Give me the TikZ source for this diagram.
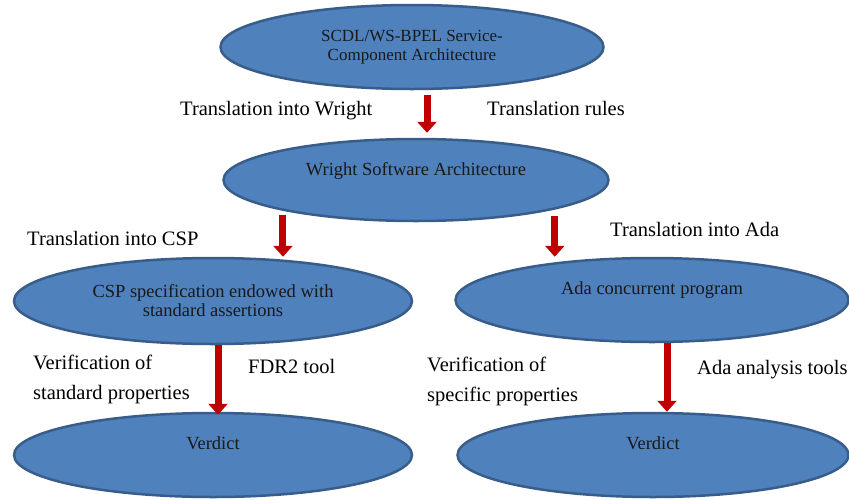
\documentclass[tikz,border=0pt]{standalone}
\usepackage{fontspec}
\setmainfont{Liberation Serif}
\usetikzlibrary{shapes.geometric, arrows.meta}
\definecolor{boxblue}{HTML}{4F81BD}
\definecolor{boxline}{HTML}{385D8A}
\definecolor{arrowred}{HTML}{C00000}
\def\fs{\fontsize{18.5}{19}\selectfont}
\def\ls{\fontsize{20.5}{30}\selectfont}

\begin{document}
\begin{tikzpicture}[x=1pt, y=-1pt,
  stage/.style={ellipse, draw=boxline, fill=boxblue, line width=2.5pt, inner sep=0pt, align=center, font=\fs, text=black!90},
  single/.style={text depth=23pt},
  lbl/.style={inner sep=0pt, align=left, font=\ls},
  flow/.style={draw=arrowred, line width=7pt, -{Triangle[width=19pt,length=11pt]}}]
\useasboundingbox (0,0) rectangle (849,499);

\node[stage, minimum width=383pt, minimum height=84pt, font=\fontsize{17}{19}\selectfont] (scdl) at (412,47) {SCDL/WS-BPEL Service-\\Component Architecture};
\node[stage, single, minimum width=385pt, minimum height=82pt] (wright) at (416,180) {Wright Software Architecture};
\node[stage, minimum width=398pt, minimum height=86pt] (csp) at (213,301) {CSP specification endowed with\\standard assertions};
\node[stage, single, minimum width=393pt, minimum height=84pt] (ada) at (652,300) {Ada concurrent program};
\node[stage, single, minimum width=398pt, minimum height=84pt] (verdictL) at (213,455) {Verdict};
\node[stage, single, minimum width=391pt, minimum height=84pt] (verdictR) at (653,455) {Verdict};

\draw[flow, shorten <=5pt, shorten >=5pt] ([xshift=15pt]scdl.south) -- ([xshift=15pt]scdl.south |- wright.north);
\draw[flow, shorten <=4pt] (wright.-167) -- (wright.-167 |- csp.north);
\draw[flow, shorten <=7pt] (wright.-12) -- (wright.-12 |- ada.north);
\draw[flow, shorten >=-3pt] ([xshift=5pt]csp.south) -- ([xshift=5pt]csp.south |- verdictL.north);
\draw[flow] ([xshift=15pt]ada.south) -- ([xshift=15pt]ada.south |- verdictR.north);

\node[lbl, anchor=base west] (twright) at (180,115) {Translation into Wright};
\node[lbl, anchor=base west] (trules) at (487,115) {Translation rules};
\node[lbl, anchor=base west] (tcsp) at (27,245) {Translation into CSP};
\node[lbl, anchor=base west] (tada) at (610,236) {Translation into Ada};
\node[lbl, anchor=north west] (vstd) at (33,355) {Verification of\\standard properties};
\node[lbl, anchor=base west] (fdr) at (248,373) {FDR2 tool};
\node[lbl, anchor=north west] (vspec) at (427,357) {Verification of\\specific properties};
\node[lbl, anchor=base west] (atools) at (697,374) {Ada analysis tools};
\end{tikzpicture}
\end{document}
